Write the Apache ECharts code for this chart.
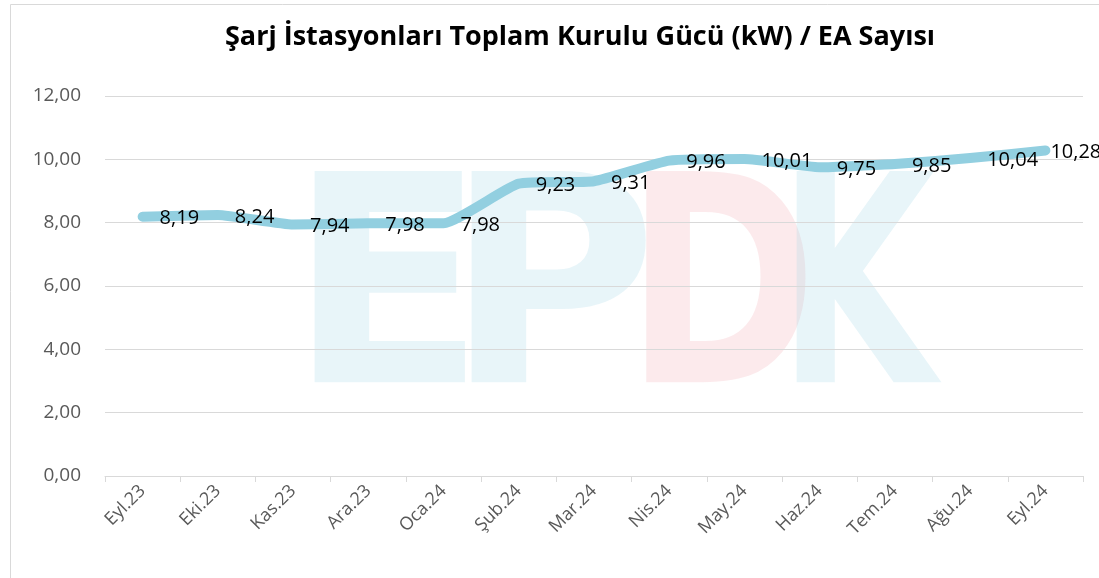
<!DOCTYPE html>
<html lang="tr">
<head>
<meta charset="UTF-8" />
<title>Şarj İstasyonları</title>
<script src="https://cdn.jsdelivr.net/npm/echarts@6/dist/echarts.min.js"></script>
<style>
  html, body { margin: 0; padding: 0; background: #fff; }
  #chart { width: 1099px; height: 578px; }
</style>
</head>
<body>
<div id="chart"></div>
<script>
  var months = ["Eyl.23", "Eki.23", "Kas.23", "Ara.23", "Oca.24", "Şub.24", "Mar.24",
                "Nis.24", "May.24", "Haz.24", "Tem.24", "Ağu.24", "Eyl.24"];
  var powerPerEv = [8.19, 8.24, 7.94, 7.98, 7.98, 9.23, 9.31, 9.96, 10.01, 9.75, 9.85, 10.04, 10.28];

  var fmt = function (v) { return v.toFixed(2).replace(".", ","); };

  // faint EPDK watermark behind the plot
  function mark(ch, x, col, sx) {
    return { type: "text", x: x, y: 162, scaleX: sx, z: -5, silent: true,
      style: { text: ch, fontSize: 290, fontWeight: "bold", fontFamily: "DejaVu Sans", fill: col } };
  }
  var blue = "rgba(140,205,225,0.2)", pink = "rgba(240,150,160,0.2)";

  // last label sits closer to its point (it runs off the right edge)
  var seriesData = powerPerEv.map(function (v, i) {
    if (i === powerPerEv.length - 1) return { value: v, label: { distance: 4 } };
    return v;
  });

  var chart = echarts.init(document.getElementById("chart"));
  chart.setOption({
    animation: false,
    title: {
      text: "Şarj İstasyonları Toplam Kurulu Gücü (kW) / EA Sayısı",
      left: 220,
      top: 19,
      textStyle: { fontFamily: "Open Sans", fontSize: 27, fontWeight: "bold", color: "#000" }
    },
    graphic: [
      { type: "rect", left: 8, top: 2, shape: { width: 1089, height: 575 },
        style: { fill: "none", stroke: "#d9d9d9", lineWidth: 1 }, z: -10 },
      mark("E", 288, blue, 1),
      mark("P", 445, blue, 1),
      mark("D", 625, pink, 0.8),
      mark("K", 778, blue, 0.7)
    ],
    grid: { left: 105, right: 16, top: 96, bottom: 102 },
    xAxis: {
      type: "category",
      data: months,
      boundaryGap: true,
      axisLine: { lineStyle: { color: "#d9d9d9", width: 1 } },
      axisTick: { show: true, length: 6, lineStyle: { color: "#d9d9d9" } },
      axisLabel: { rotate: 45, color: "#595959", fontSize: 18, fontFamily: "Open Sans", margin: 12 }
    },
    yAxis: {
      type: "value",
      min: 0,
      max: 12,
      interval: 2,
      axisLine: { show: false },
      axisTick: { show: false },
      splitLine: { lineStyle: { color: "#d9d9d9", width: 1 } },
      axisLabel: { color: "#595959", fontSize: 19, fontFamily: "Open Sans", margin: 24, formatter: fmt }
    },
    series: [{
      type: "line",
      data: seriesData,
      smooth: 0.15,
      symbol: "circle",
      symbolSize: 2,
      showSymbol: true,
      lineStyle: { color: "#92cfe0", width: 10, cap: "round", join: "round" },
      itemStyle: { color: "#92cfe0" },
      label: {
        show: true,
        position: "right",
        distance: 16,
        offset: [0, 2],
        color: "#000",
        fontSize: 20,
        fontFamily: "Open Sans",
        formatter: function (p) { return fmt(p.value); }
      }
    }]
  });
</script>
</body>
</html>
